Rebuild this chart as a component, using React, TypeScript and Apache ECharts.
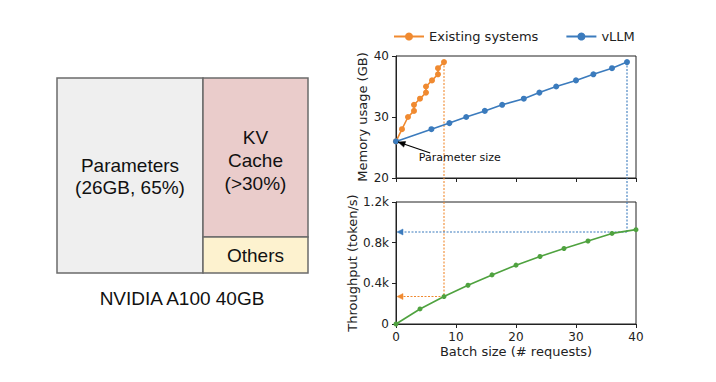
import React, { useEffect, useRef } from "react";
import * as echarts from "echarts";

// ---- data ----
const existingX = [0, 1, 2, 3, 3, 4, 5, 5, 6, 7, 7, 8];
const existingY = [26, 28, 30, 31, 32, 33, 34, 35, 36, 37, 38, 39];
const vllmX = [0, 5.9, 8.9, 11.7, 14.8, 17.7, 21.3, 23.9, 26.7, 30, 32.9, 36, 38.5];
const vllmY = [26, 28, 29, 30, 31, 32, 33, 34, 35, 36, 37, 38, 39];
const batchX = [0, 4, 8, 12, 16, 20, 24, 28, 32, 36, 40];
const throughputY = [0, 148, 270, 381, 483, 579, 664, 743, 816, 891, 928];
const seriesNames = ["Existing systems", "vLLM"];
const existingMaxBatch = 8;
const existingMaxThroughput = 270;
const vllmMaxBatch = 38.5;
const vllmMaxThroughput = 905;
const paramSize = 26;
const memTicks = { min: 20, max: 40, interval: 10 };
const thrTicks = { min: 0, max: 1200, interval: 400 };
const batchTicks = { min: 0, max: 40, interval: 10 };

const ORANGE = "#f08a30";
const BLUE = "#3b7bbd";
const GREEN = "#4fa23f";
const AX = "#222";
const FONT = "DejaVu Sans";
const SFONT = "Liberation Sans";

export default function App() {
  const ref = useRef<HTMLDivElement>(null);
  useEffect(() => {
    const chart = echarts.init(ref.current!, null, { renderer: "svg" });
    const axisCommon = {
      axisLine: { show: true, lineStyle: { color: AX, width: 1 } },
      axisTick: { show: true, inside: false, length: 4, lineStyle: { color: AX } },
      splitLine: { show: false },
      axisLabel: { color: AX, fontSize: 12, fontFamily: FONT, margin: 7 },
      nameTextStyle: { color: AX, fontSize: 13, fontFamily: FONT },
    };
    chart.setOption({
      animation: false,
      backgroundColor: "#fff",
      legend: {
        data: seriesNames,
        left: 388,
        top: 25,
        itemWidth: 30,
        itemHeight: 10,
        itemGap: 27,
        textStyle: { color: AX, fontSize: 13, fontFamily: FONT },
      },
      grid: [
        { left: 396, top: 56, width: 240, height: 122, show: true, borderColor: AX, borderWidth: 1, containLabel: false },
        { left: 396, top: 202, width: 240, height: 122, show: true, borderColor: AX, borderWidth: 1, containLabel: false },
      ],
      xAxis: [
        { ...axisCommon, type: "value", gridIndex: 0, ...batchTicks, axisLabel: { show: false } },
        {
          ...axisCommon,
          type: "value",
          gridIndex: 1,
          ...batchTicks,
          name: "Batch size (# requests)",
          nameLocation: "middle",
          nameGap: 21,
        },
      ],
      yAxis: [
        {
          ...axisCommon,
          type: "value",
          gridIndex: 0,
          ...memTicks,
          name: "Memory usage (GB)",
          nameLocation: "middle",
          nameGap: 27,
        },
        {
          ...axisCommon,
          type: "value",
          gridIndex: 1,
          ...thrTicks,
          name: "Throughput (token/s)",
          nameLocation: "middle",
          nameGap: 37,
          axisLabel: {
            ...axisCommon.axisLabel,
            formatter: (v: number) => (v === 0 ? "0" : `${v / 1000}k`),
          },
        },
      ],
      series: [
        {
          name: seriesNames[0],
          type: "line",
          xAxisIndex: 0,
          yAxisIndex: 0,
          data: existingX.map((x, i) => [x, existingY[i]]),
          symbol: "circle",
          symbolSize: 6,
          color: ORANGE,
          lineStyle: { width: 1.6, color: ORANGE },
          z: 3,
        },
        {
          name: seriesNames[1],
          type: "line",
          xAxisIndex: 0,
          yAxisIndex: 0,
          data: vllmX.map((x, i) => [x, vllmY[i]]),
          symbol: "circle",
          symbolSize: 6,
          color: BLUE,
          lineStyle: { width: 1.6, color: BLUE },
          z: 4,
        },
        {
          name: "Throughput",
          type: "line",
          xAxisIndex: 1,
          yAxisIndex: 1,
          data: batchX.map((x, i) => [x, throughputY[i]]),
          symbol: "circle",
          symbolSize: 5,
          color: GREEN,
          lineStyle: { width: 1.6, color: GREEN },
        },
      ],
    });

    const p0 = (pt: number[]) => chart.convertToPixel({ gridIndex: 0 }, pt) as number[];
    const p1 = (pt: number[]) => chart.convertToPixel({ gridIndex: 1 }, pt) as number[];

    const dotted = (a: number[], b: number[], color: string) => ({
      type: "line",
      shape: { x1: a[0], y1: a[1], x2: b[0], y2: b[1] },
      style: { stroke: color, lineWidth: 1.1, lineDash: [2, 1.5] },
      z: 1,
    });
    const arrowHead = (tip: number[], from: number[], color: string, len = 7, half = 3) => {
      const dx = from[0] - tip[0];
      const dy = from[1] - tip[1];
      const d = Math.sqrt(dx * dx + dy * dy);
      const ux = dx / d, uy = dy / d;
      const bx = tip[0] + ux * len, by = tip[1] + uy * len;
      return {
        type: "polygon",
        shape: {
          points: [
            [tip[0], tip[1]],
            [bx - uy * half, by + ux * half],
            [bx + uy * half, by - ux * half],
          ],
        },
        style: { fill: color, stroke: color, lineWidth: 0.5 },
        z: 5,
      };
    };

    const oTop = p0([existingMaxBatch, existingY[existingY.length - 1]]);
    const oBot = p1([existingMaxBatch, existingMaxThroughput]);
    const oLeft = p1([0, existingMaxThroughput]);
    const bTop = p0([vllmMaxBatch, vllmY[vllmY.length - 1]]);
    const bBot = p1([vllmMaxBatch, vllmMaxThroughput]);
    const bLeft = p1([0, vllmMaxThroughput]);
    const annTip = p0([0.35, paramSize - 0.1]);
    const annFrom = p0([5.7, paramSize - 1.9]);
    const annText = p0([3.8, paramSize - 2.7]);

    const boxStroke = { stroke: "#6b6b6b", lineWidth: 1.5 };
    const txt = (x: number, y: number, text: string, size = 19) => ({
      type: "text",
      x,
      y,
      style: { text, fill: "#111", font: `${size}px "${SFONT}"`, textAlign: "center", textVerticalAlign: "middle" },
      z: 10,
    });

    chart.setOption({
      graphic: [
        { type: "rect", shape: { x: 57, y: 78, width: 146, height: 195 }, style: { fill: "#efefef", ...boxStroke } },
        { type: "rect", shape: { x: 203, y: 78, width: 105, height: 159 }, style: { fill: "#eacccb", ...boxStroke } },
        { type: "rect", shape: { x: 203, y: 237, width: 105, height: 36 }, style: { fill: "#fdf2cf", ...boxStroke } },
        txt(130, 165, "Parameters"),
        txt(130, 187, "(26GB, 65%)"),
        txt(255.5, 137, "KV"),
        txt(255.5, 160, "Cache"),
        txt(255.5, 183, "(>30%)"),
        txt(255.5, 255, "Others"),
        txt(182, 298, "NVIDIA A100 40GB"),
        dotted(oTop, oBot, ORANGE),
        dotted(oBot, [oLeft[0] + 5, oLeft[1]], ORANGE),
        arrowHead([oLeft[0] + 1, oLeft[1]], oBot, ORANGE, 6, 3),
        dotted(bTop, bBot, BLUE),
        dotted(bBot, [bLeft[0] + 5, bLeft[1]], BLUE),
        arrowHead([bLeft[0] + 1, bLeft[1]], bBot, BLUE, 6, 3),
        {
          type: "line",
          shape: { x1: annFrom[0], y1: annFrom[1], x2: annTip[0], y2: annTip[1] },
          style: { stroke: "#000", lineWidth: 1.2 },
          z: 6,
        },
        arrowHead(annTip, annFrom, "#000", 7, 3),
        {
          type: "text",
          x: annText[0],
          y: annText[1],
          style: { text: "Parameter size", fill: "#111", font: `11px "${FONT}"`, textAlign: "left", textVerticalAlign: "middle" },
          z: 10,
        },
      ],
    });

    return () => chart.dispose();
  }, []);

  return <div ref={ref} style={{ position: "absolute", left: 0, top: 0, width: 716, height: 382 }} />;
}
